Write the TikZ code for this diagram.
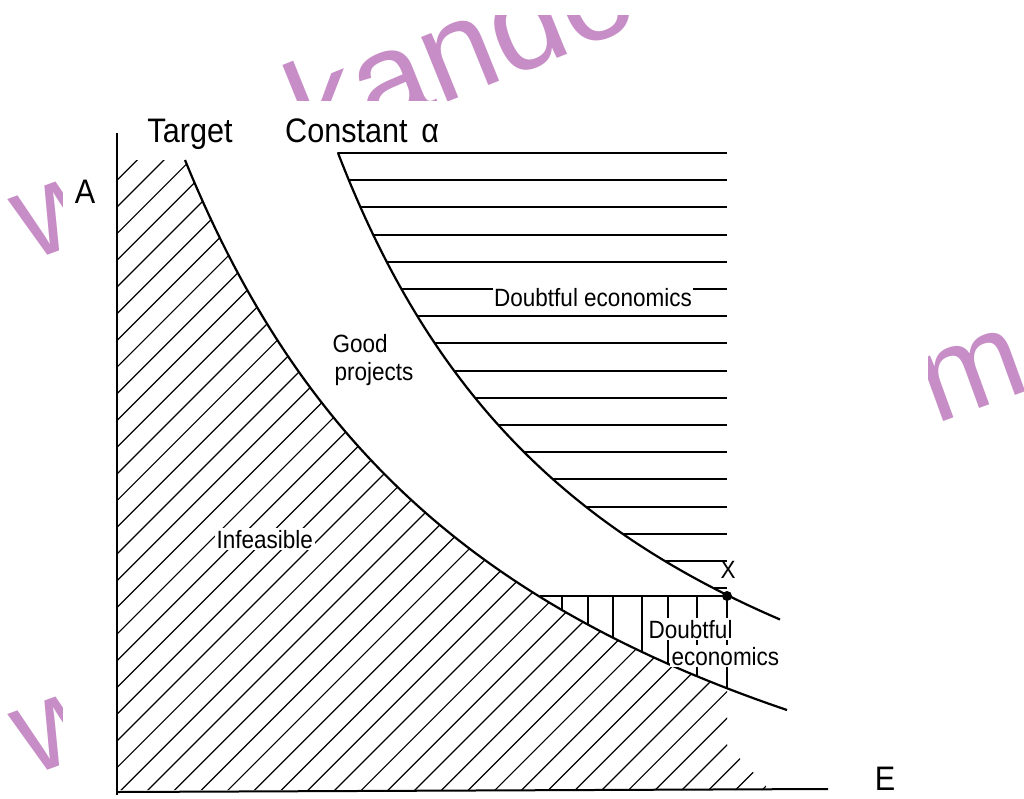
\documentclass[tikz,border=0pt]{standalone}
\usepackage{fontspec}
\setmainfont{Liberation Sans}[FakeStretch=0.9]
\newfontfamily\wmfont{Liberation Sans}
\definecolor{wm}{RGB}{199,141,198}
\begin{document}
\begin{tikzpicture}[x=1pt,y=-1pt,
  curve/.style={line width=2.2pt},
  hatch/.style={line width=1.2pt},
  hline/.style={line width=2pt},
  axis/.style={line width=2pt},
  lbl/.style={font=\fontsize{25}{30}\selectfont, inner sep=1.5pt},
  big/.style={font=\fontsize{34}{40}\selectfont, inner sep=0pt},
  wmark/.style={text=wm, font=\wmfont\fontsize{125}{130}\selectfont, rotate=20, inner sep=0pt}]
\useasboundingbox (0,0) rectangle (1024,798);
\fill[white] (0,0) rectangle (1024,798);

% watermark fragments
\begin{scope}
\clip (0,0) rectangle (62,798) (62,15) rectangle (1024,100) (928,0) rectangle (1024,798);
\node[wmark, anchor=base west] (wm1) at (30,262) {w};
\node[wmark, anchor=base west, rotate=2, font=\wmfont\fontsize{132}{136}\selectfont] (wm2) at (310,158) {kandoo};
\node[wmark, anchor=base west] (wm3) at (30,777) {w};
\node[wmark, anchor=base west] (wm4) at (935,425) {m};
\end{scope}

% infeasible hatching
\begin{scope}
\clip (117,160) -- (185,160) -- plot[domain=185:727,samples=60] (\x,{1036-3125.54/((\x+171.8)/100)}) -- (727,745) -- (770,790) -- (117,790) -- cycle;
\foreach \n in {-6,...,46} \draw[hatch] ({404+26.7*\n-820},820) -- ({404+26.7*\n},0);
\end{scope}

% upper doubtful economics: horizontal lines
\begin{scope}
\clip plot[domain=338:727,samples=60] (\x,{939.5-2384.74/((\x-34.8)/100)}) -- (727,146) -- (330,146) -- cycle;
\foreach \i in {0,...,16} \draw[hline] (300,{153+27.2*\i}) -- (727,{153+27.2*\i});
\end{scope}

% lower doubtful economics
\draw[hline] (540,596) -- (727,596);
\foreach \x in {562,588,613,642,668,697,727}
  \draw[hatch] (\x,596) -- (\x,{1036-3125.54/((\x+171.8)/100)});

% axes
\draw[axis] (117,133) -- (117,795);
\draw[axis] (117,792) -- (828,789);

% curves
\draw[curve] plot[domain=185:787,samples=100] (\x,{1036-3125.54/((\x+171.8)/100)});
\draw[curve] plot[domain=338:780,samples=100] (\x,{939.5-2384.74/((\x-34.8)/100)});
\fill (727,596) circle[radius=5];

% labels
\node[big, anchor=base] (tgt) at (190,142) {Target};
\node[big, anchor=base west] (ca) at (285,142) {Constant\hspace{0.4em}α};
\node[big, anchor=base] (A) at (85,203) {A};
\node[big, anchor=base] (E) at (885,790) {E};
\node[lbl, fill=white, anchor=base] (de1) at (593,306) {Doubtful economics};
\node[lbl, anchor=base west] (good) at (331,352) {Good};
\node[lbl, anchor=base west] (proj) at (333,380) {projects};
\node[lbl, fill=white, anchor=base west] (inf) at (215,548) {Infeasible};
\node[lbl, anchor=base] (X) at (728,578) {X};
\node[lbl, fill=white, anchor=base west] (d2) at (647,638) {Doubtful};
\node[lbl, fill=white, anchor=base west] (e2) at (670,665) {economics};
\end{tikzpicture}
\end{document}
